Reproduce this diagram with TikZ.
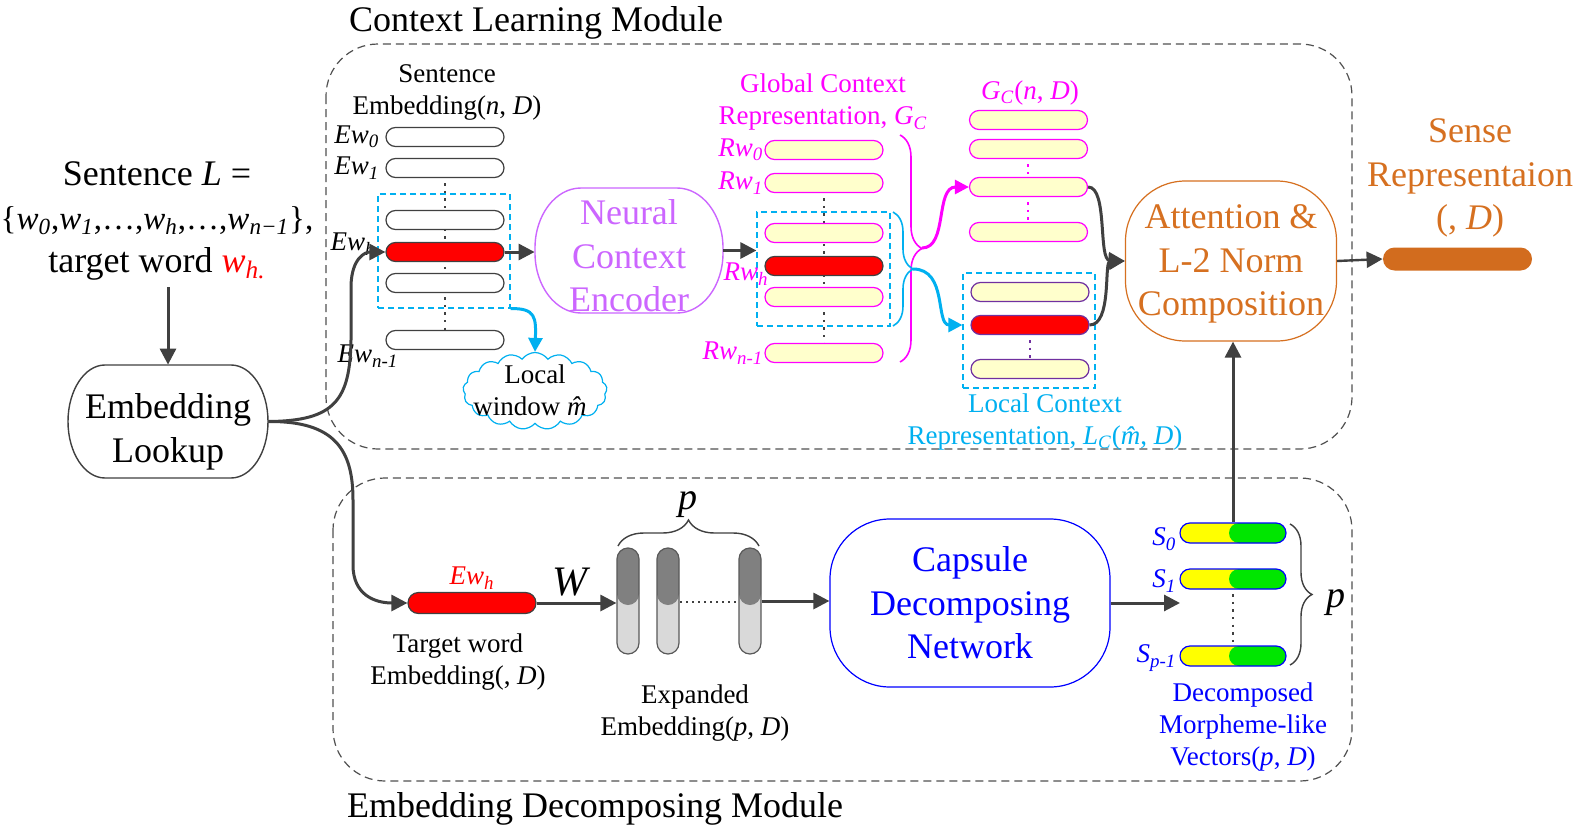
\documentclass[tikz,border=0pt]{standalone}
\usepackage{fontspec}
\setmainfont{Liberation Serif}
\usetikzlibrary{shapes.misc,shapes.symbols,arrows.meta,decorations.pathreplacing,calc}
\definecolor{dk}{RGB}{64,64,64}
\definecolor{mag}{RGB}{255,0,255}
\definecolor{vio}{RGB}{204,102,255}
\definecolor{cyn}{RGB}{0,176,240}
\definecolor{org}{RGB}{214,112,32}
\definecolor{orgbar}{RGB}{210,108,30}
\definecolor{pale}{RGB}{255,255,204}
\definecolor{purp}{RGB}{112,48,160}
\definecolor{sgreen}{RGB}{0,230,0}
\definecolor{syel}{RGB}{255,255,0}
\definecolor{cdark}{RGB}{128,128,128}
\definecolor{clight}{RGB}{217,217,217}
\definecolor{modgray}{RGB}{80,80,80}
\newcommand\bigf{\fontsize{18}{21.7}\selectfont}
\newcommand\smf{\fontsize{13.5}{16}\selectfont}
\newcommand\sub[1]{\textsubscript{\textit{#1}}}
\begin{document}
\begin{tikzpicture}[x=0.5pt,y=-0.5pt,
  bar/.style={rounded rectangle, minimum width=59pt, minimum height=9.5pt, inner sep=0pt, draw=dk, line width=0.6pt, fill=white},
  redbar/.style={bar, fill=red},
  rbar/.style={bar, fill=pale, draw=mag},
  lbar/.style={bar, fill=pale, draw=purp},
  conn/.style={draw=dk, line width=1.5pt, -{Triangle[length=8pt,width=8pt]}},
  dots/.style={dk, line width=1.4pt, dash pattern=on 1.2pt off 2.6pt},
  cbox/.style={draw=cyn, dash pattern=on 3pt off 2pt, line width=0.6pt, inner sep=0pt},
  module/.style={draw=modgray, dash pattern=on 4pt off 2.5pt, line width=0.6pt, rounded corners=26pt},
  block/.style={rectangle, draw, line width=0.6pt, inner sep=0pt},
  anchorbox/.style={rectangle, inner sep=0pt},
  btext/.style={align=center, font=\bigf, inner sep=0pt},
  col/.style={rectangle, rounded corners=5.5pt, minimum width=11pt, minimum height=53pt, inner sep=0pt, fill=clight, draw=gray!70!black, line width=0.6pt,
     path picture={\fill[cdark, rounded corners=5.5pt] (path picture bounding box.north west) rectangle ([yshift=-2pt]path picture bounding box.east);}},
  sbar/.style={rounded rectangle, minimum width=53pt, minimum height=10pt, inner sep=0pt, fill=syel, draw=blue, line width=0.6pt,
     path picture={\fill[sgreen, rounded corners=5pt] ([xshift=-2pt]path picture bounding box.south) rectangle (path picture bounding box.north east);}},
  brc/.style={decorate, line width=0.8pt}
]
\fill[white] (0,0) rectangle (1580,830);
\useasboundingbox (0,0) rectangle (1580,830);

% modules
\draw[module] (326,44) rectangle (1352,449);
\draw[module] (333,478) rectangle (1352,781);
\node[font=\bigf] (t1) at (536,23) {Context Learning Module};
\node[font=\bigf] (t2) at (595,809) {Embedding Decomposing Module};

% sentence and lookup
\node[font=\bigf, align=center] (sent) at (157,221) {Sentence \textit{L} =\\{\fontsize{16.5}{21.7}\selectfont\{\textit{w}\sub{0},\textit{w}\sub{1},…,\textit{w}\sub{h},…,\textit{w}\sub{n−1}\},}\\target word \textcolor{red}{\textit{w}\sub{h.}}};
\node[anchorbox, minimum width=100pt, minimum height=56.5pt] (lookup) at (168,421.5) {};
\draw[dk, line width=0.7pt] (105,365) -- (231,365) .. controls (251.4,365) and (268,390.3) .. (268,421.5) .. controls (268,452.7) and (251.4,478) .. (231,478) -- (105,478) .. controls (84.6,478) and (68,452.7) .. (68,421.5) .. controls (68,390.3) and (84.6,365) .. (105,365) -- cycle;
\node[btext] (lookuptxt) at (168,432) {Embedding\\Lookup};

% sentence embedding
\node[font=\smf, align=center] (selab) at (447,92) {Sentence\\Embedding(\textit{n}, \textit{D})};
\draw[dots] (445,168) -- (445,340);
\node[bar] (e1) at (445,137) {};
\node[bar] (e2) at (445,168) {};
\node[bar] (e3) at (445,220) {};
\node[redbar] (ewh) at (445,252) {};
\node[bar] (e5) at (445,283) {};
\node[bar] (e6) at (445,340) {};
\node[cbox, minimum width=66pt, minimum height=57pt] (sbox) at (444,251) {};
\node[font=\smf, anchor=east] (le1) at ([xshift=0.5pt]e1.west) {\textit{Ew}\sub{0}};
\node[font=\smf, anchor=east] (le2) at ([xshift=0.5pt]e2.west) {\textit{Ew}\sub{1}};
\node[font=\smf] (leh) at (353,244) {\textit{Ew}\sub{h}};
\node[font=\smf] (len) at (368,356) {\textit{Ew}\sub{n-1}};

% cloud
\node[cloud, draw=cyn, cloud puffs=17, cloud puff arc=110, cloud ignores aspect, minimum width=72pt, minimum height=38.5pt, inner sep=0pt, line width=0.6pt] (cloud) at (535,391) {};
\node[font=\smf, align=center] (cloudtxt) at (535,390) {Local\\window \textit{\^{m}}};

% neural context encoder
\node[anchorbox, minimum width=94pt, minimum height=62.5pt] (nce) at (629,250.5) {};
\draw[vio, line width=0.7pt] (581,188) -- (677,188) .. controls (702.4,188) and (723,214.9) .. (723,248) -- (723,253) .. controls (723,286.1) and (702.4,313) .. (677,313) -- (581,313) .. controls (555.6,313) and (535,286.1) .. (535,253) -- (535,248) .. controls (535,214.9) and (555.6,188) .. (581,188) -- cycle;
\node[btext, text=vio] (ncetxt) at (629,256) {Neural\\Context\\Encoder};

% global context
\node[font=\smf, align=center, text=mag] (glab) at (823,102.5) {Global Context\\Representation, \textit{G}\sub{C}};
\draw[dots] (824,183) -- (824,353);
\node[rbar] (r1) at (824,150) {};
\node[rbar] (r2) at (824,183) {};
\node[rbar] (r3) at (824,233) {};
\node[redbar] (r4) at (824,266) {};
\node[rbar] (r5) at (824,297) {};
\node[rbar] (r6) at (824,353) {};
\node[cbox, minimum width=66.5pt, minimum height=57pt] (gbox) at (823.5,269) {};
\node[font=\smf, text=mag, anchor=east] (lr1) at ([xshift=3pt]r1.west) {\textit{Rw}\sub{0}};
\node[font=\smf, text=mag, anchor=east] (lr2) at ([xshift=3pt]r2.west) {\textit{Rw}\sub{1}};
\node[font=\smf, text=mag] (lrh) at (746,274) {\textit{Rw}\sub{h}};
\node[font=\smf, text=mag, anchor=east] (lrn) at ([xshift=3pt]r6.west) {\textit{Rw}\sub{n-1}};

% braces
\draw[brc, mag, decoration={brace, amplitude=11pt}] (900,135) -- (900,362);
\draw[brc, cyn, decoration={brace, amplitude=10pt}] (893,212) -- (893,326);
\coordinate (mtip) at (922,248);
\coordinate (btip) at (913,269);

% G_C
\node[font=\smf, text=mag] (gclab) at (1030,93) {\textit{G}\sub{C}(\textit{n}, \textit{D})};
\draw[dots, mag] (1028,149) -- (1028,232);
\node[rbar] (g1) at (1028.5,120) {};
\node[rbar] (g2) at (1028.5,149) {};
\node[rbar] (g3) at (1028.5,187) {};
\node[rbar] (g4) at (1028.5,232) {};

% local context
\draw[dots, purp] (1030,325) -- (1030,369);
\node[lbar] (l1) at (1030,292) {};
\node[redbar, draw=purp] (l2) at (1030,325) {};
\node[lbar] (l3) at (1030,369) {};
\node[cbox, minimum width=66pt, minimum height=57.5pt] (lbox) at (1029,330.5) {};
\node[font=\smf, align=center, text=cyn] (llab) at (1045,422) {Local Context\\Representation, \textit{L}\sub{C}(\textit{\^{m}}, \textit{D})};

% attention
\node[block, draw=org, minimum width=105.5pt, minimum height=80pt, rounded corners=30pt] (att) at (1231,261) {};
\node[btext, text=org] (atttxt) at (1231,264) {Attention \&\\L-2 Norm\\Composition};
\node[font=\bigf, align=center, text=org] (slab) at (1470,178) {Sense\\Representaion\\(, \textit{D})};
\node[rounded rectangle, fill=orgbar, minimum width=74.5pt, minimum height=11.5pt, inner sep=0pt] (sense) at (1457.5,259) {};

% bottom
\node[redbar, minimum width=64pt, minimum height=10.5pt] (tew) at (472,603) {};
\node[font=\smf, text=red] (ltew) at (472,578) {\textit{Ew}\sub{h}};
\node[font=\smf, align=center] (tlab) at (458,662) {Target word\\Embedding(, \textit{D})};
\node[font=\fontsize{21}{24}\selectfont] (wlab) at (572,582) {\textit{W}};
\draw[dk, line width=0.7pt, dash pattern=on 1pt off 2pt] (668,602) -- (750,602);
\node[col] (c1) at (628,601) {};
\node[col] (c2) at (668,601) {};
\node[col] (c3) at (750,601) {};
\draw[brc, dk, line width=0.7pt, decoration={brace, amplitude=13pt}] (618,546) -- (759,546);
\node[font=\fontsize{19}{22}\selectfont] (plab) at (688,505) {\textit{p}};
\node[font=\smf, align=center] (xlab) at (695,713) {Expanded\\Embedding(\textit{p}, \textit{D})};
\node[block, draw=blue, minimum width=140pt, minimum height=84pt, rounded corners=30pt] (caps) at (970,603) {};
\node[btext, text=blue] (capstxt) at (970,603) {Capsule\\Decomposing\\Network};
\coordinate (sin) at (1180,603);
\draw[dots] (1233,579) -- (1233,656);
\node[sbar] (s1) at (1233,533) {};
\node[sbar] (s2) at (1233,579) {};
\node[sbar] (s3) at (1233,656) {};
\node[font=\smf, text=blue, anchor=east] (ls1) at ([xshift=2pt,yshift=-3pt]s1.west) {\textit{S}\sub{0}};
\node[font=\smf, text=blue, anchor=east] (ls2) at ([xshift=2pt,yshift=-1pt]s2.west) {\textit{S}\sub{1}};
\node[font=\smf, text=blue, anchor=east] (ls3) at ([xshift=2pt,yshift=-1pt]s3.west) {\textit{S}\sub{p-1}};
\draw[brc, dk, line width=0.7pt, decoration={brace, amplitude=11pt}] (1290,524) -- (1290,665);
\node[font=\fontsize{19}{22}\selectfont] (plab2) at (1336,603) {\textit{p}};
\node[font=\smf, align=center, text=blue] (dlab) at (1243,727) {Decomposed\\Morpheme-like\\Vectors(\textit{p}, \textit{D})};

% connectors
\draw[conn] (sent.south -| lookup.north) -- (lookup.north);
\draw[conn] (lookup.east) .. controls (335,421) and (350,400) .. (351,340) -- (351,285) .. controls (352,258) and (365,252) .. (ewh.west);
\draw[conn] (lookup.east) .. controls (335,421) and (353,450) .. (353,500) -- (353,565) .. controls (353,595) and (375,603) .. (tew.west);
\draw[conn] (ewh.east) -- (ewh.east -| nce.west);
\draw[conn] (nce.east) -- (nce.east -| gbox.west);
\draw[conn, draw=cyn, -{Triangle[length=7pt,width=7pt]}] (sbox.south east) .. controls (536,308) and (536,318) .. (cloud.north);
\draw[conn, draw=mag, -{Triangle[length=7pt,width=7pt]}] (mtip) .. controls (948,248) and (935,187) .. (g3.west);
\draw[conn, draw=cyn, -{Triangle[length=7pt,width=7pt]}] (btip) .. controls (948,269) and (935,325) .. (l2.west -| lbox.west);
\draw[conn] (g3.east) .. controls (1108,187) and (1098,260) .. (att.west);
\draw[conn] (l2.east) .. controls (1112,325) and (1104,262) .. (att.west);
\draw[conn, line width=1.2pt] (att.east) -- (sense.west);
\draw[conn] (s1.north) -- (s1.north |- att.south);
\draw[conn] (tew.east) -- (tew.east -| c1.west);
\draw[conn] (c3.east) -- (c3.east -| caps.west);
\draw[conn] (caps.east) -- (sin);
\end{tikzpicture}
\end{document}
